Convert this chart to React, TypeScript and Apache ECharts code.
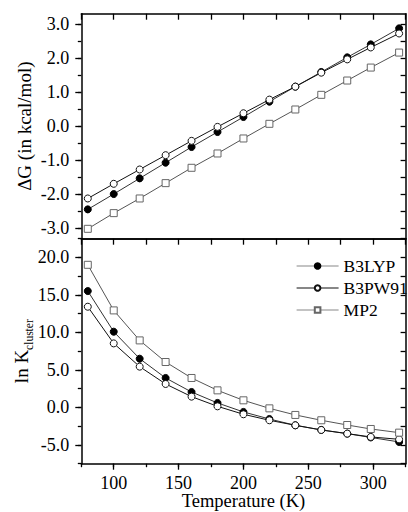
import React, { useEffect, useRef } from "react";
import * as echarts from "echarts";

const temps = [80, 100, 120, 140, 160, 180, 200, 220, 240, 260, 280, 298.15, 320];
const seriesNames = ["B3LYP", "B3PW91", "MP2"];
const dG_B3LYP = [-2.44, -1.99, -1.53, -1.07, -0.61, -0.17, 0.27, 0.72, 1.16, 1.59, 2.02, 2.4, 2.87];
const dG_B3PW91 = [-2.12, -1.69, -1.27, -0.85, -0.43, -0.02, 0.38, 0.78, 1.16, 1.57, 1.96, 2.31, 2.72];
const dG_MP2 = [-3.01, -2.55, -2.12, -1.67, -1.22, -0.8, -0.36, 0.07, 0.49, 0.92, 1.34, 1.72, 2.16];
const lnK_B3LYP = [15.52, 10.1, 6.5, 3.93, 2.06, 0.6, -0.6, -1.54, -2.38, -3.0, -3.49, -4.0, -4.6];
const lnK_B3PW91 = [13.43, 8.54, 5.44, 3.13, 1.44, 0.15, -0.91, -1.71, -2.38, -3.0, -3.49, -3.93, -4.25];
const lnK_MP2 = [19.02, 12.94, 8.94, 6.06, 3.93, 2.28, 0.95, -0.12, -1.0, -1.71, -2.34, -2.87, -3.36];

const xTickLabels = [100, 150, 200, 250, 300];
const dGMajor = [-3, -2, -1, 0, 1, 2, 3];
const dGMinor = [-3, -2.5, -2, -1.5, -1, -0.5, 0, 0.5, 1, 1.5, 2, 2.5, 3];
const lnKMajor = [-5, 0, 5, 10, 15, 20];
const lnKMinor = [-7.5, -5, -2.5, 0, 2.5, 5, 7.5, 10, 12.5, 15, 17.5, 20, 22.5];

const FONT = "'Liberation Serif', 'Times New Roman', serif";

export default function App() {
  const ref = useRef<HTMLDivElement>(null);
  useEffect(() => {
    if (!ref.current) return;
    const chart = echarts.init(ref.current, null, { renderer: "svg" });
    const line = { show: true, onZero: false, lineStyle: { color: "#000", width: 1.5 } };
    const noLine = { show: false, onZero: false };
    const gridL = 81.3, gridW = 324.3, gridH = 225;
    const xBase = (gi: number) => ({ type: "value", gridIndex: gi, min: 75, max: 325, splitLine: { show: false } });
    const pair = (a: number[], b: number[]) => a.map((v, i) => [v, b[i]]);
    const tickStyle = { color: "#000", width: 1.3 };
    const styles: any = {
      B3LYP: { symbol: "circle", color: "#000", border: "#000", line: "#333", legendLine: "#888" },
      B3PW91: { symbol: "circle", color: "#fff", border: "#111", line: "#111", legendLine: "#111" },
      MP2: { symbol: "rect", color: "#fff", border: "#666", line: "#555", legendLine: "#888" },
    };
    const mk = (name: string, data: number[][], xi: number, yi: number) => {
      const s = styles[name];
      return {
        name, type: "line", xAxisIndex: xi, yAxisIndex: yi, data,
        symbol: s.symbol, symbolSize: 7,
        itemStyle: { color: s.color, borderColor: s.border, borderWidth: 1 },
        lineStyle: { color: s.line, width: 1 },
      };
    };
    const option: any = {
      animation: false,
      textStyle: { fontFamily: FONT },
      grid: [
        { left: gridL, top: 13.7, width: gridW, height: gridH, containLabel: false, outerBoundsMode: "none" },
        { left: gridL, top: 238.7, width: gridW, height: gridH, containLabel: false, outerBoundsMode: "none" },
      ],
      legend: {
        left: 291, top: 252, orient: "vertical",
        itemWidth: 42, itemHeight: 7, itemGap: 4,
        data: seriesNames.map((n) => ({ name: n, lineStyle: { color: styles[n].legendLine, width: 1.2 } })),
        textStyle: { fontFamily: FONT, fontSize: 17.5, color: "#000" },
      },
      xAxis: [
        { ...xBase(0), position: "bottom", axisLine: line, axisTick: { show: false }, axisLabel: { show: false } },
        { ...xBase(0), position: "top", interval: 25, axisLine: line, axisTick: { show: true, inside: true, length: 6, lineStyle: tickStyle }, axisLabel: { show: false } },
        {
          ...xBase(1), position: "bottom", axisLine: line,
          axisTick: { show: true, inside: false, length: 6, customValues: xTickLabels, lineStyle: tickStyle },
          axisLabel: { show: true, customValues: xTickLabels, fontSize: 18, color: "#000", fontFamily: FONT, margin: 10 },
          name: "Temperature (K)", nameLocation: "middle", nameGap: 28, nameMoveOverlap: false,
          nameTextStyle: { fontSize: 18.5, color: "#000", fontFamily: FONT },
        },
        { ...xBase(1), position: "bottom", interval: 25, axisLine: noLine, axisTick: { show: true, inside: false, length: 3.5, lineStyle: tickStyle }, axisLabel: { show: false } },
        { ...xBase(1), position: "top", interval: 25, axisLine: line, axisTick: { show: true, inside: true, length: 6, lineStyle: tickStyle }, axisLabel: { show: false } },
      ],
      yAxis: [
        {
          type: "value", gridIndex: 0, position: "left", min: -3.3, max: 3.3, splitLine: { show: false }, axisLine: line,
          axisTick: { show: true, customValues: dGMajor, length: 6, lineStyle: tickStyle },
          axisLabel: { show: true, customValues: dGMajor, formatter: (v: number) => v.toFixed(1), fontSize: 18, color: "#000", fontFamily: FONT, margin: 12 },
          name: "ΔG (in kcal/mol)", nameLocation: "middle", nameGap: 47, nameMoveOverlap: false,
          nameTextStyle: { fontSize: 19, color: "#000", fontFamily: FONT },
        },
        {
          type: "value", gridIndex: 0, position: "left", min: -3.3, max: 3.3, splitLine: { show: false }, axisLine: noLine,
          axisTick: { show: true, customValues: dGMinor, length: 3.5, lineStyle: tickStyle }, axisLabel: { show: false },
        },
        {
          type: "value", gridIndex: 0, position: "right", min: -3.3, max: 3.3, splitLine: { show: false }, axisLine: line,
          axisTick: { show: true, inside: true, customValues: dGMinor, length: 5, lineStyle: tickStyle }, axisLabel: { show: false },
        },
        {
          type: "value", gridIndex: 1, position: "left", min: -7.5, max: 22.5, splitLine: { show: false }, axisLine: line,
          axisTick: { show: true, customValues: lnKMajor, length: 6, lineStyle: tickStyle },
          axisLabel: { show: true, customValues: lnKMajor, formatter: (v: number) => v.toFixed(1), fontSize: 18, color: "#000", fontFamily: FONT, margin: 12 },
          name: "ln K{sub|cluster}", nameLocation: "middle", nameGap: 46, nameMoveOverlap: false,
          nameTextStyle: {
            fontSize: 19, color: "#000", fontFamily: FONT,
            rich: { sub: { fontSize: 11.5, fontFamily: FONT, color: "#000", verticalAlign: "bottom", padding: [16, 0, 0, 0] } },
          },
        },
        {
          type: "value", gridIndex: 1, position: "left", min: -7.5, max: 22.5, splitLine: { show: false }, axisLine: noLine,
          axisTick: { show: true, customValues: lnKMinor, length: 3.5, lineStyle: tickStyle }, axisLabel: { show: false },
        },
        {
          type: "value", gridIndex: 1, position: "right", min: -7.5, max: 22.5, splitLine: { show: false }, axisLine: line,
          axisTick: { show: true, inside: true, customValues: lnKMinor, length: 5, lineStyle: tickStyle }, axisLabel: { show: false },
        },
      ],
      series: [
        mk("B3LYP", pair(temps, dG_B3LYP), 0, 0),
        mk("B3PW91", pair(temps, dG_B3PW91), 0, 0),
        mk("MP2", pair(temps, dG_MP2), 0, 0),
        mk("B3LYP", pair(temps, lnK_B3LYP), 2, 3),
        mk("B3PW91", pair(temps, lnK_B3PW91), 2, 3),
        mk("MP2", pair(temps, lnK_MP2), 2, 3),
      ],
    };
    chart.setOption(option);
    return () => chart.dispose();
  }, []);
  return <div ref={ref} style={{ position: "fixed", left: 0, top: 0, width: 408, height: 512, background: "#fff" }} />;
}
